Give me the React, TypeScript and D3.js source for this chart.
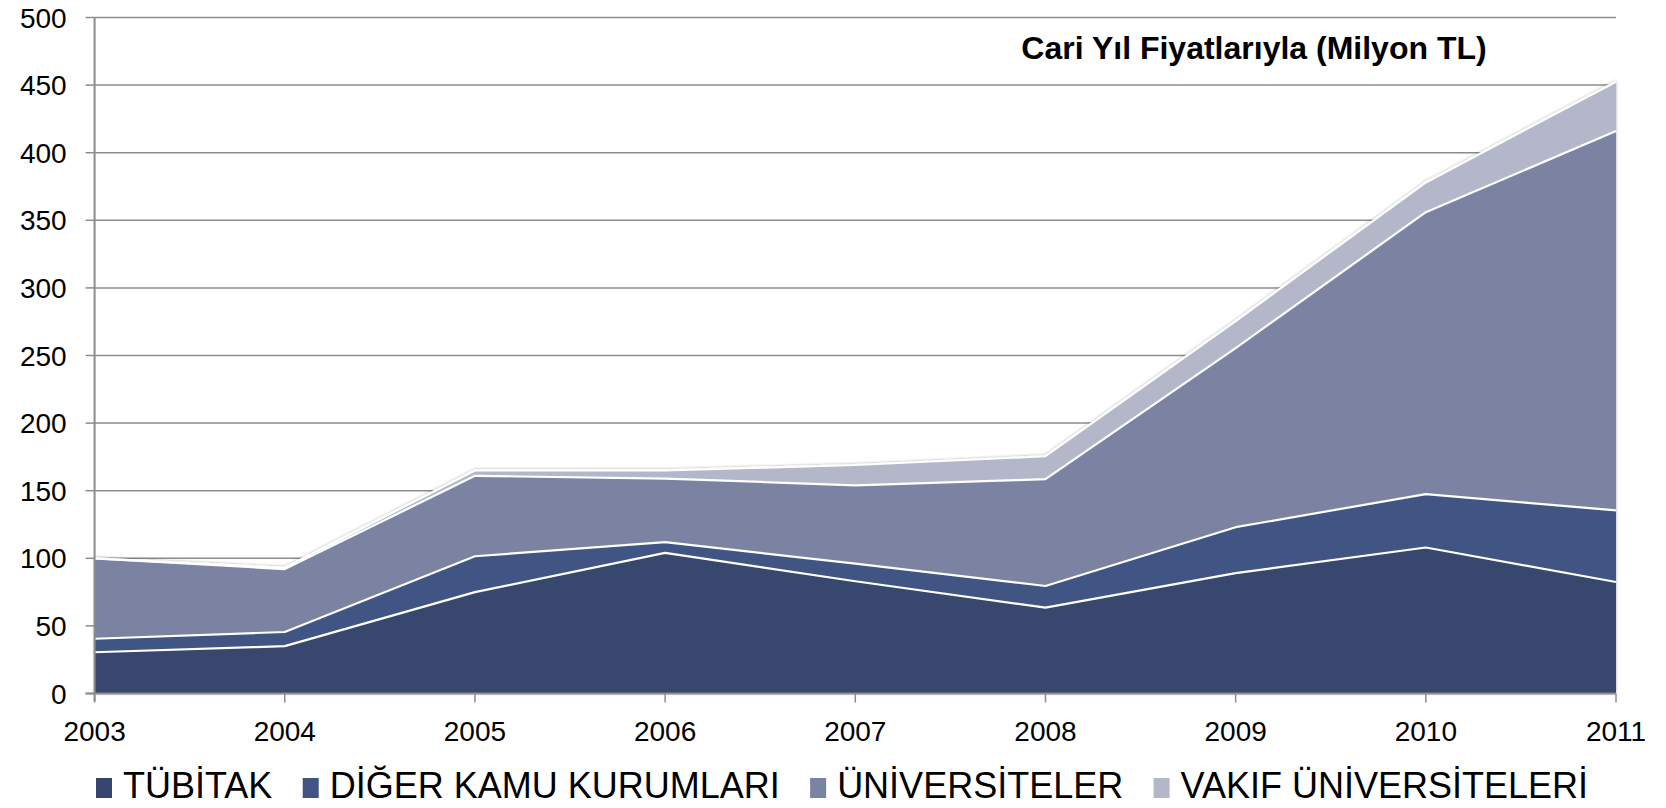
import React, { useEffect, useRef } from "react";
import * as d3 from "d3";

const years = ["2003", "2004", "2005", "2006", "2007", "2008", "2009", "2010", "2011"];
const tubitak = [30.5, 35, 75, 104, 83, 63.5, 89, 108, 82.5];
const digerKamu = [10, 10.5, 26.5, 8, 13, 16, 34, 39.5, 53];
const universiteler = [59.5, 46.5, 59.5, 47, 58, 79, 132.5, 208.5, 280.5];
const vakifUniversiteleri = [0, 1, 4, 6, 15, 17, 20, 22, 36.5];
const seriesNames = ["TÜBİTAK", "DİĞER KAMU KURUMLARI", "ÜNİVERSİTELER", "VAKIF ÜNİVERSİTELERİ"];
const seriesColors = ["#37466d", "#415483", "#7b83a2", "#b4b7c9"];
const yTicks = [0, 50, 100, 150, 200, 250, 300, 350, 400, 450, 500];
const title = "Cari Yıl Fiyatlarıyla (Milyon TL)";

export default function App() {
  const ref = useRef<SVGSVGElement | null>(null);

  useEffect(() => {
    const svg = d3.select(ref.current);
    svg.selectAll("*").remove();
    const W = 1666, H = 808;
    const left = 94.6, right = 1616, top = 17.5, bottom = 693.5;
    const font = "'Liberation Sans', Arial, sans-serif";

    const x = d3.scalePoint<string>().domain(years).range([left, right]);
    const y = d3.scaleLinear().domain([0, 500]).range([bottom, top]);

    const table = years.map((yr, i) => ({
      year: yr,
      s0: tubitak[i],
      s1: digerKamu[i],
      s2: universiteler[i],
      s3: vakifUniversiteleri[i],
    }));
    const stack = d3.stack<any>().keys(["s0", "s1", "s2", "s3"]);
    const layers = stack(table);

    const defs = svg.append("defs");
    const f = defs.append("filter").attr("id", "sh").attr("x", "-5%").attr("y", "-5%").attr("width", "110%").attr("height", "110%");
    f.append("feGaussianBlur").attr("in", "SourceAlpha").attr("stdDeviation", 1.5).attr("result", "b");
    f.append("feOffset").attr("in", "b").attr("dx", 0).attr("dy", 0).attr("result", "o");
    f.append("feComponentTransfer").attr("in", "o").attr("result", "o2")
      .append("feFuncA").attr("type", "linear").attr("slope", 0.35);
    const m = f.append("feMerge");
    m.append("feMergeNode").attr("in", "o2");
    m.append("feMergeNode").attr("in", "SourceGraphic");

    // gridlines
    svg.append("g").selectAll("line").data(yTicks.filter(t => t > 0)).join("line")
      .attr("x1", left).attr("x2", right)
      .attr("y1", d => y(d)).attr("y2", d => y(d))
      .attr("stroke", "#8c8c8c").attr("stroke-width", 1.5);

    const area = d3.area<any>()
      .x((d: any) => x(d.data.year) as number)
      .y0((d: any) => y(d[0]))
      .y1((d: any) => y(d[1]));
    const topLine = d3.line<any>()
      .x((d: any) => x(d.data.year) as number)
      .y((d: any) => y(d[1]));

    const g = svg.append("g").attr("filter", "url(#sh)");
    layers.forEach((layer, i) => {
      g.append("path").attr("d", area(layer as any) as string).attr("fill", seriesColors[i]);
    });
    layers.forEach((layer) => {
      g.append("path").attr("d", topLine(layer as any) as string)
        .attr("fill", "none").attr("stroke", "#ffffff").attr("stroke-width", 2.2)
        .attr("stroke-linejoin", "round");
    });

    // axes
    svg.append("line").attr("x1", left).attr("x2", left).attr("y1", top).attr("y2", bottom + 8)
      .attr("stroke", "#8c8c8c").attr("stroke-width", 2);
    svg.append("line").attr("x1", left - 9).attr("x2", right).attr("y1", bottom).attr("y2", bottom)
      .attr("stroke", "#8c8c8c").attr("stroke-width", 2);
    svg.append("g").selectAll("line").data(yTicks).join("line")
      .attr("x1", left - 9).attr("x2", left).attr("y1", d => y(d)).attr("y2", d => y(d))
      .attr("stroke", "#8c8c8c").attr("stroke-width", 1.5);
    svg.append("g").selectAll("line").data(years).join("line")
      .attr("x1", d => x(d) as number).attr("x2", d => x(d) as number)
      .attr("y1", bottom).attr("y2", bottom + 9)
      .attr("stroke", "#8c8c8c").attr("stroke-width", 1.5);

    svg.append("g").selectAll("text").data(yTicks).join("text")
      .attr("x", left - 28).attr("y", d => y(d) + 10)
      .attr("text-anchor", "end").attr("font-family", font).attr("font-size", 28).attr("fill", "#000")
      .text(d => String(d));
    svg.append("g").selectAll("text").data(years).join("text")
      .attr("x", d => x(d) as number).attr("y", bottom + 47)
      .attr("text-anchor", "middle").attr("font-family", font).attr("font-size", 28).attr("fill", "#000")
      .text(d => d);

    svg.append("text").attr("x", 1254).attr("y", 59).attr("text-anchor", "middle")
      .attr("font-family", font).attr("font-size", 32).attr("font-weight", "bold").attr("fill", "#000")
      .text(title);

    // legend
    const lg = svg.append("g");
    const items = seriesNames.map((name, i) => {
      const it = lg.append("g");
      it.append("rect").attr("x", 0).attr("y", -20).attr("width", 16).attr("height", 20).attr("fill", seriesColors[i]);
      const t = it.append("text").attr("x", 27).attr("y", 0).attr("font-family", font)
        .attr("font-size", 36).attr("fill", "#000").text(name);
      const w = 27 + (t.node() as SVGTextElement).getComputedTextLength();
      return { it, w };
    });
    const legendLeft = 96, legendRight = 1588;
    const sumW = items.reduce((s, d) => s + d.w, 0);
    const gap = Math.max(6, (legendRight - legendLeft - sumW) / (items.length - 1));
    let cx = legendLeft;
    items.forEach(({ it, w }) => {
      it.attr("transform", `translate(${cx},${798})`);
      cx += w + gap;
    });
    svg.attr("width", W).attr("height", H);
  }, []);

  return (
    <svg ref={ref} width={1666} height={808}
      style={{ position: "absolute", left: 0, top: 0, background: "#fff" }} />
  );
}
